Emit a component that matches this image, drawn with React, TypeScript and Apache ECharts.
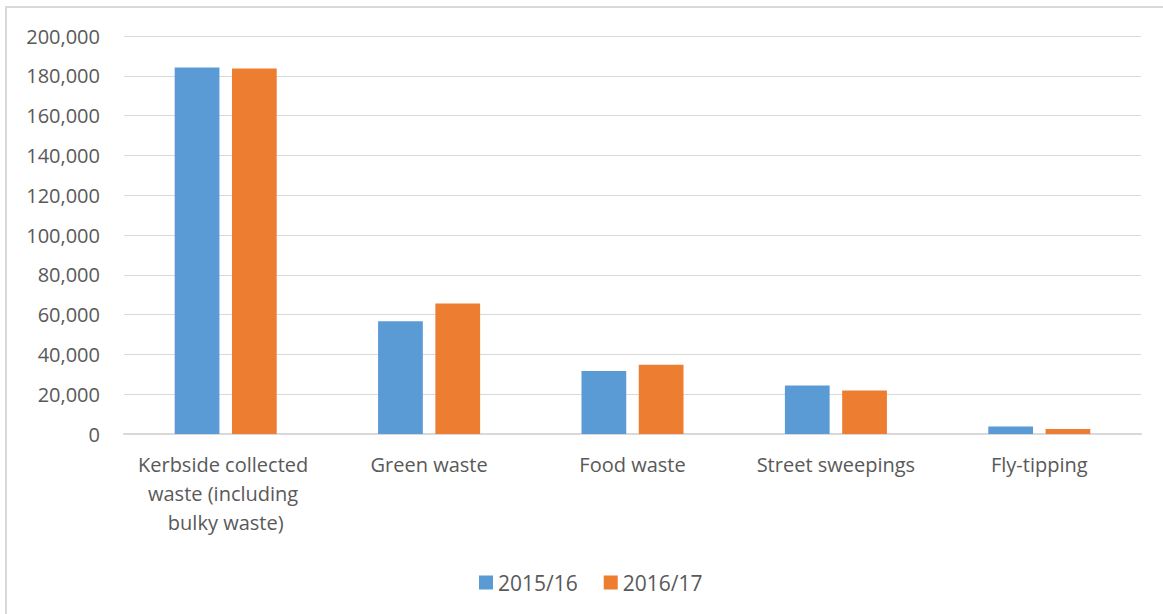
import React, { useEffect, useRef } from "react";
import * as echarts from "echarts";

const categories = [
  "Kerbside collected waste (including bulky waste)",
  "Green waste",
  "Food waste",
  "Street sweepings",
  "Fly-tipping",
];
const seriesNames = ["2015/16", "2016/17"];
const values2015 = [184200, 56600, 31700, 24400, 3800];
const values2016 = [183700, 65600, 34800, 21900, 2500];
const yTicks = { min: 0, max: 200000, interval: 20000 };

const FONT = "'Open Sans', sans-serif";
const TEXT = "#595959";

export default function App() {
  const ref = useRef<HTMLDivElement>(null);
  useEffect(() => {
    if (!ref.current) return;
    const chart = echarts.init(ref.current, null, { renderer: "svg" });
    chart.setOption({
      animation: false,
      backgroundColor: "#ffffff",
      textStyle: { fontFamily: FONT },
      graphic: [
        {
          type: "rect",
          shape: { x: 6, y: 7, width: 1170, height: 620 },
          style: { fill: "none", stroke: "#d9d9d9", lineWidth: 2 },
          silent: true,
        },
      ],
      grid: { left: 124, right: 22, top: 36, bottom: 180 },
      legend: {
        data: seriesNames,
        left: 474,
        top: 567,
        itemWidth: 14,
        itemHeight: 14,
        itemGap: 26,
        icon: "rect",
        textStyle: { color: TEXT, fontSize: 21, fontFamily: FONT },
      },
      xAxis: {
        type: "category",
        data: categories,
        axisLine: { lineStyle: { color: "#d9d9d9", width: 2 } },
        axisTick: { show: false },
        axisLabel: {
          color: TEXT,
          fontSize: 20,
          fontFamily: FONT,
          margin: 16,
          lineHeight: 29,
          width: 195,
          overflow: "break",
          interval: 0,
        },
      },
      yAxis: {
        type: "value",
        min: yTicks.min,
        max: yTicks.max,
        interval: yTicks.interval,
        axisLine: { show: false },
        axisTick: { show: false },
        splitLine: { lineStyle: { color: "#d9d9d9", width: 1 } },
        axisLabel: {
          color: TEXT,
          fontSize: 20,
          fontFamily: FONT,
          margin: 24,
          formatter: (v: number) => v.toLocaleString("en-US"),
        },
      },
      series: [
        {
          name: seriesNames[0],
          type: "bar",
          data: values2015,
          itemStyle: { color: "#5B9BD5" },
          barWidth: "22%",
          barGap: "28%",
        },
        {
          name: seriesNames[1],
          type: "bar",
          data: values2016,
          itemStyle: { color: "#ED7D31" },
          barWidth: "22%",
          barGap: "28%",
        },
      ],
    });
    return () => chart.dispose();
  }, []);
  return (
    <div
      ref={ref}
      style={{ position: "fixed", left: 0, top: 0, width: 1163, height: 614 }}
    />
  );
}
